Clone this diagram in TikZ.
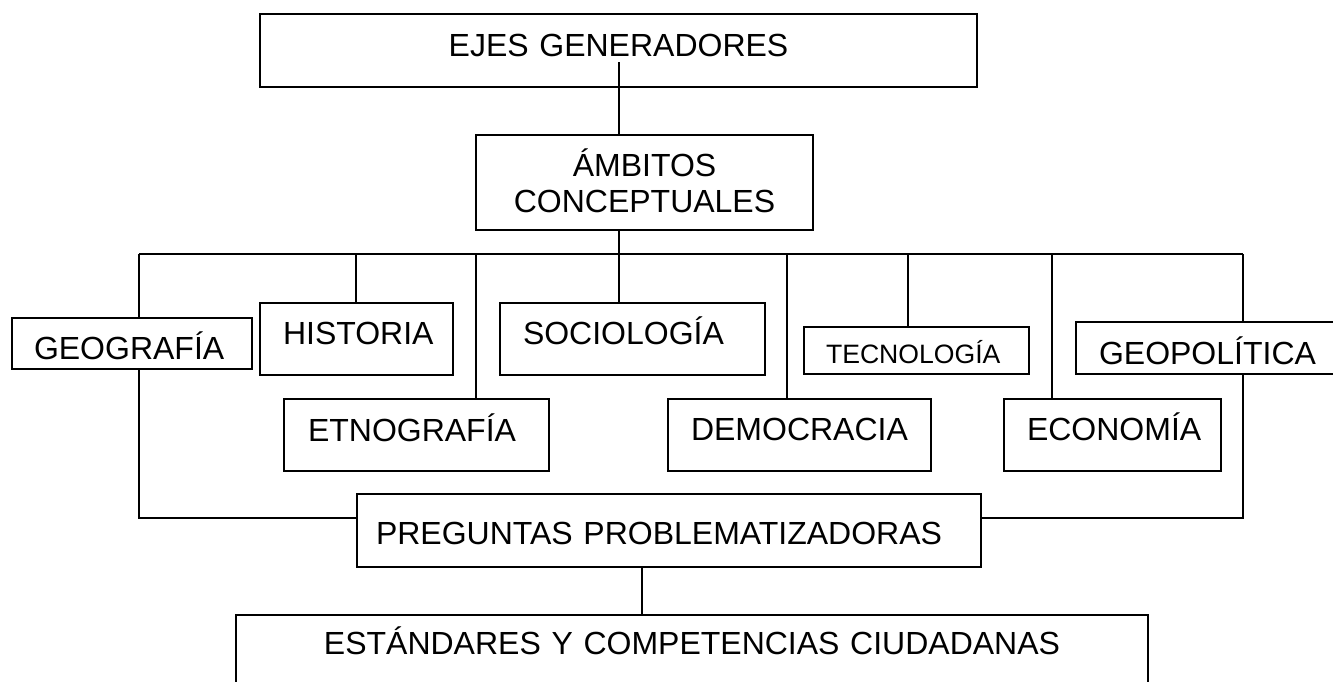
\documentclass[tikz,border=0pt]{standalone}
\usepackage{fontspec}
\setmainfont{Liberation Sans}
\usepackage{tikz}

\begin{document}
\begin{tikzpicture}[x=0.5pt, y=-0.5pt,
  caja/.style={draw, line width=1pt, anchor=north west, inner ysep=0pt,
    font=\fontsize{16pt}{18pt}\selectfont},
  linea/.style={line width=0.7pt}]
  \clip (0,0) rectangle (1333,681);

  \node (ejes) at (259,13) [caja, inner xsep=0pt, text width=358.5pt, align=center,
    text height=21pt, text depth=15.5pt] {EJES GENERADORES};
  \node (ambitos) at (475,134) [caja, inner xsep=0pt, text width=168.5pt, align=center,
    text height=20.5pt, text depth=27pt] {ÁMBITOS\\CONCEPTUALES};

  \node (geografia) at (11,317) [caja, inner xsep=11pt, text width=98pt, align=left,
    text height=20.5pt, text depth=5pt] {GEOGRAFÍA};
  \node (historia) at (259,302) [caja, inner xsep=11.5pt, text width=73.5pt, align=left,
    text height=20.5pt, text depth=15.5pt] {HISTORIA};
  \node (etnografia) at (283,398) [caja, inner xsep=12pt, text width=108.5pt, align=left,
    text height=21pt, text depth=15pt] {ETNOGRAFÍA};
  \node (sociologia) at (499,302) [caja, inner xsep=11.5pt, text width=109.5pt, align=left,
    text height=20.5pt, text depth=15.5pt] {SOCIOLOGÍA};
  \node (democracia) at (667,398) [caja, inner xsep=11.5pt, text width=108.5pt, align=left,
    text height=20.5pt, text depth=15.5pt] {DEMOCRACIA};
  \node (tecnologia) at (803,326) [caja, inner xsep=11pt, text width=90.5pt, align=left,
    text height=18pt, text depth=5.5pt, font=\fontsize{13.3pt}{15pt}\selectfont] {TECNOLOGÍA};
  \node (economia) at (1003,398) [caja, inner xsep=11.5pt, text width=85.5pt, align=left,
    text height=20.5pt, text depth=15.5pt] {ECONOMÍA};
  \node (geopolitica) at (1075,321) [caja, inner xsep=11.5pt, text width=112pt, align=left,
    text height=21pt, text depth=5pt] {GEOPOLÍTICA};

  \node (preguntas) at (356,493) [caja, inner xsep=9.5pt, text width=293pt, align=left,
    text height=25pt, text depth=11.5pt] {PREGUNTAS PROBLEMATIZADORAS};
  \node (estandares) at (235,614) [caja, inner xsep=0pt, text width=456pt, align=center,
    text height=19.5pt, text depth=33.5pt] {ESTÁNDARES Y COMPETENCIAS CIUDADANAS};

  % tronco y barra de reparto
  \coordinate (ejes-pie) at (619,62);
  \coordinate (bus-izq) at (139,254);
  \coordinate (bus-der) at (1243,254);
  \draw[linea] (ejes-pie) -- (ejes-pie |- ambitos.north);
  \draw[linea] (ambitos.south -| ejes-pie) -- (ejes-pie |- bus-izq);
  \draw[linea] (bus-izq) -- (bus-der);

  \draw[linea] (bus-izq) -- (bus-izq |- geografia.north);
  \draw[linea] (356,254) -- (356,0 |- historia.north);
  \draw[linea] (476,254) -- (476,0 |- etnografia.north);
  \draw[linea] (619,254) -- (619,0 |- sociologia.north);
  \draw[linea] (787,254) -- (787,0 |- democracia.north);
  \draw[linea] (908,254) -- (908,0 |- tecnologia.north);
  \draw[linea] (1052,254) -- (1052,0 |- economia.north);
  \draw[linea] (bus-der) -- (bus-der |- geopolitica.north);

  % hacia las preguntas
  \draw[linea] (bus-izq |- geografia.south) |- (preguntas.west |- 0,518);
  \draw[linea] (bus-der |- geopolitica.south) |- (preguntas.east |- 0,518);
  \draw[linea] (642,0 |- preguntas.south) -- (642,0 |- estandares.north);
\end{tikzpicture}
\end{document}
